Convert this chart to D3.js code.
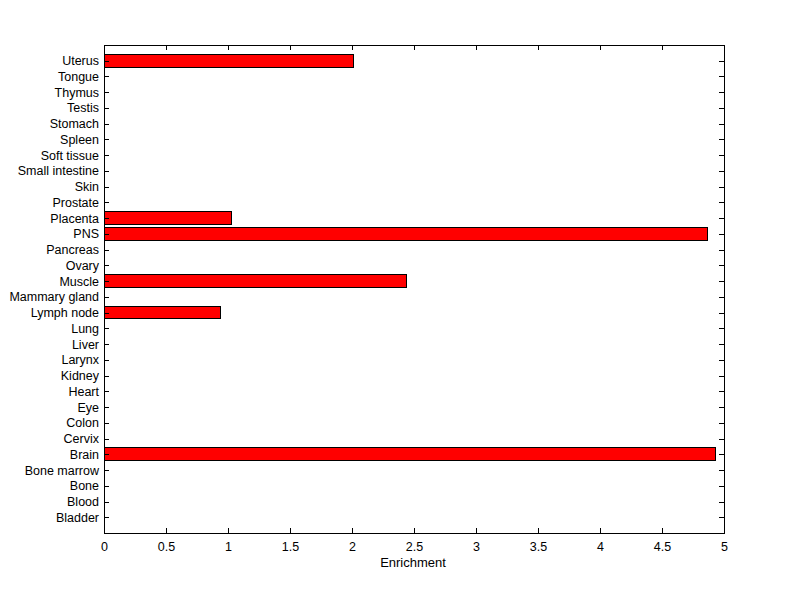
<!DOCTYPE html>
<html>
<head>
<meta charset="utf-8">
<script src="https://cdn.jsdelivr.net/npm/d3@7"></script>
<style>
  body { margin: 0; background: #fff; }
  text { font-family: "Liberation Sans", Arial, sans-serif; fill: #000; }
  line, rect { shape-rendering: crispEdges; }
</style>
</head>
<body>
<div id="chart"></div>
<script>
var tissues = ["Bladder", "Blood", "Bone", "Bone marrow", "Brain", "Cervix", "Colon", "Eye",
    "Heart", "Kidney", "Larynx", "Liver", "Lung", "Lymph node", "Mammary gland", "Muscle",
    "Ovary", "Pancreas", "PNS", "Placenta", "Prostate", "Skin", "Small intestine",
    "Soft tissue", "Spleen", "Stomach", "Testis", "Thymus", "Tongue", "Uterus"];
var enrichment = [0, 0, 0, 0, 4.93, 0, 0, 0,
    0, 0, 0, 0, 0, 0.94, 0, 2.44,
    0, 0, 4.87, 1.03, 0, 0, 0,
    0, 0, 0, 0, 0, 0, 2.01];
var xTicks = [0, 0.5, 1, 1.5, 2, 2.5, 3, 3.5, 4, 4.5, 5];

var width = 800, height = 599;
var mLeft = 104, mRight = 724, mTop = 45, mBottom = 533;

var svg = d3.select("#chart").append("svg").attr("width", width).attr("height", height);

var n = tissues.length;
var x = d3.scaleLinear().domain([0, 5]).range([mLeft, mRight]);
var y = d3.scaleLinear().domain([0, n + 1]).range([mBottom, mTop]);
var yTicks = d3.range(1, n + 1);
var barH = y(0) - y(0.8);

var rows = tissues.map(function(t, i){ return {name: t, value: enrichment[i], pos: i + 1}; });

// bars
svg.append("g").selectAll("rect").data(rows.filter(function(d){ return d.value > 0; }))
    .enter().append("rect")
    .attr("x", x(0))
    .attr("y", function(d){ return y(d.pos) - barH / 2; })
    .attr("width", function(d){ return x(d.value) - x(0); })
    .attr("height", barH)
    .style("fill", "#ff0000")
    .style("stroke", "#000")
    .style("stroke-width", 1);

// axes
var fmt = function(d){ return d; };
svg.append("g").attr("transform", "translate(0," + mBottom + ")")
    .call(d3.axisBottom(x).tickValues(xTicks).tickSizeInner(-5).tickSizeOuter(0).tickPadding(9).tickFormat(fmt));
svg.append("g").attr("transform", "translate(0," + mTop + ")")
    .call(d3.axisTop(x).tickValues(xTicks).tickSizeInner(-5).tickSizeOuter(0).tickFormat(""));
svg.append("g").attr("transform", "translate(" + mLeft + ",0)")
    .call(d3.axisLeft(y).tickValues(yTicks).tickSizeInner(-5).tickSizeOuter(0).tickPadding(5)
        .tickFormat(function(d){ return tissues[d - 1]; }));
svg.append("g").attr("transform", "translate(" + mRight + ",0)")
    .call(d3.axisRight(y).tickValues(yTicks).tickSizeInner(-5).tickSizeOuter(0).tickFormat(""));

svg.selectAll(".domain").remove();
svg.selectAll(".tick line").attr("stroke", "#000");
svg.selectAll(".tick text").style("font-size", "12.5px");

svg.append("rect").attr("x", mLeft).attr("y", mTop)
    .attr("width", mRight - mLeft).attr("height", mBottom - mTop)
    .style("fill", "none").style("stroke", "#000").style("stroke-width", 1);

svg.append("text").attr("x", (mLeft + mRight) / 2 - 1).attr("y", 567)
    .attr("text-anchor", "middle").style("font-size", "13px").text("Enrichment");
</script>
</body>
</html>
